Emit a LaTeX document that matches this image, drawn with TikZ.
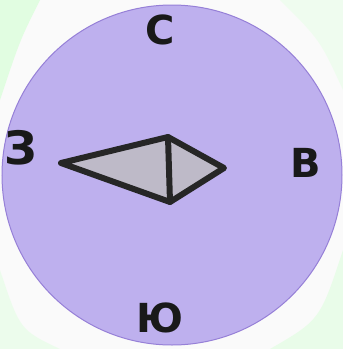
\documentclass[tikz,border=0pt]{standalone}
\usepackage{fontspec}
\setmainfont{DejaVu Sans}
\definecolor{dialfill}{RGB}{190,176,238}
\definecolor{dialline}{RGB}{150,128,215}
\definecolor{needlefill}{RGB}{190,186,200}
\begin{document}
\begin{tikzpicture}[x=1pt,y=-1pt,
  letter/.style={font=\bfseries\fontsize{40}{40}\selectfont, text=black!90, inner sep=0pt},
  needle/.style={line width=6pt, draw=black!85, line join=round, line cap=round}]
\useasboundingbox (0,0) rectangle (343,349);
\fill[black!2] (0,0) rectangle (343,349);
\fill[green!18!white, opacity=0.6] (0,0) -- (40,0) .. controls (20,40) .. (0,100) -- cycle;
\fill[green!15!white, opacity=0.5] (343,349) -- (270,349) .. controls (320,320) .. (343,250) -- cycle;
\fill[green!12!white, opacity=0.5] (0,349) -- (60,349) .. controls (20,330) .. (0,270) -- cycle;
\fill[green!10!white, opacity=0.5] (343,0) -- (343,90) .. controls (320,40) .. (280,0) -- cycle;
\node[circle, minimum size=340pt, inner sep=0pt, fill=dialfill,
  draw=dialline, line width=1pt] (dial) at (172,175) {};
\node[letter] (n) at (160,30) {С};
\node[letter, font=\bfseries\fontsize{46}{46}\selectfont] (w) at (21,148) {З};
\node[letter] (e) at (306,163) {В};
\node[letter] (s) at (160,318) {Ю};
\coordinate (tw) at (61,163);
\coordinate (tt) at (168,137);
\coordinate (tb) at (170,202);
\coordinate (te) at (224,168);
\fill[needlefill] (tw) -- (tt) -- (te) -- (tb) -- cycle;
\draw[needle] (tw) -- (tt) -- (te) -- (tb) -- cycle;
\draw[needle] (tt) -- (tb);
\end{tikzpicture}
\end{document}
